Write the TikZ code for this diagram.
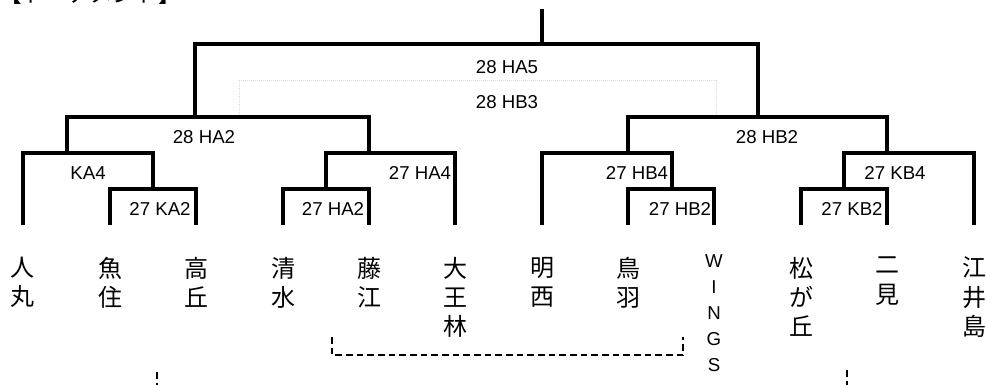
\documentclass[tikz,border=0pt]{standalone}
\usepackage{fontspec}
\setmainfont{Liberation Sans}
\newfontfamily\jpfont{Noto Sans CJK JP}

\begin{document}
\begin{tikzpicture}[x=0.75pt,y=-0.75pt,line width=2.5pt]
\tikzstyle{leaf}=[anchor=north,inner sep=0pt,outer xsep=0pt,outer ysep=24pt,align=center,font=\jpfont\fontsize{18}{22}\selectfont]
\tikzstyle{tag}=[inner sep=0pt,font=\fontsize{14}{16}\selectfont]
\tikzstyle{note}=[line width=1pt,dash pattern=on 5pt off 3pt]
\useasboundingbox (0,0) rectangle (986,385);

% title, cut off at the top edge
\node[anchor=base west,inner sep=0pt,font=\jpfont\fontsize{17}{17}\selectfont] (title) at (-2,3) {【トーナメント】};

% teams
\node[leaf] (n1) at (23,225) {人\\丸};
\node[leaf] (n2) at (110,225) {魚\\住};
\node[leaf] (n3) at (196,225) {高\\丘};
\node[leaf] (n4) at (283,225) {清\\水};
\node[leaf] (n5) at (369,225) {藤\\江};
\node[leaf] (n6) at (455,225) {大\\王\\林};
\node[leaf] (n7) at (542,225) {明\\西};
\node[leaf] (n8) at (628,225) {鳥\\羽};
\node[leaf,outer ysep=22.5pt,font=\fontsize{14}{19.5}\selectfont] (n9) at (714,225) {W\\I\\N\\G\\S};
\node[leaf] (n10) at (801,225) {松\\が\\丘};
\node[leaf] (n11) at (887,225) {二\\見};
\node[leaf] (n12) at (974,225) {江\\井\\島};

% junctions
\coordinate (root) at (542,9);
\coordinate (m0) at (542,44);
\coordinate (m1) at (195,117);
\coordinate (m2) at (758,117);
\coordinate (m11) at (67,153);
\coordinate (m12) at (369,153);
\coordinate (m21) at (628,153);
\coordinate (m22) at (887,153);
\coordinate (m111) at (153,189);
\coordinate (m121) at (326,189);
\coordinate (m212) at (672,189);
\coordinate (m221) at (844,189);

\draw (root) -- (m0);
\draw (m1) |- (m0) -| (m2);
\draw (m11) |- (m1) -| (m12);
\draw (m21) |- (m2) -| (m22);
\draw (n1) |- (m11) -| (m111);
\draw (n2) |- (m111) -| (n3);
\draw (m121) |- (m12) -| (n6);
\draw (n4) |- (m121) -| (n5);
\draw (n7) |- (m21) -| (m212);
\draw (n8) |- (m212) -| (n9);
\draw (m221) |- (m22) -| (n12);
\draw (n10) |- (m221) -| (n11);

% match labels
\node[tag] (ha5) at (507,67) {28 HA5};
\node[tag] (hb3) at (507,102) {28 HB3};
\node[tag] (ha2) at (204,137) {28 HA2};
\node[tag] (hb2) at (767,137) {28 HB2};
\node[tag] (ka4) at (88,173) {KA4};
\node[tag] (ha4) at (420,173) {27 HA4};
\node[tag] (hb4) at (637,173) {27 HB4};
\node[tag] (kb4) at (895,173) {27 KB4};
\node[tag] (ka2) at (160,209) {27 KA2};
\node[tag] (ha2b) at (333,209) {27 HA2};
\node[tag] (hb2b) at (680,209) {27 HB2};
\node[tag] (kb2) at (852,209) {27 KB2};

% faint frame behind the final labels
\coordinate (f1) at (239,115);
\coordinate (f2) at (716,81);
\draw[line width=0.75pt,dash pattern=on 0.75pt off 0.75pt,black!14] (f1) |- (f2) -- (716,115);

% dashed marks below
\coordinate (d1) at (332,337);
\coordinate (d2) at (683,337);
\draw[note] (d1) -- ++(0,18) -| (d2);
\coordinate (s1) at (157,372);
\coordinate (s2) at (847,370);
\draw[note] (s1) -- ++(0,20);
\draw[note] (s2) -- ++(0,20);
\end{tikzpicture}
\end{document}
